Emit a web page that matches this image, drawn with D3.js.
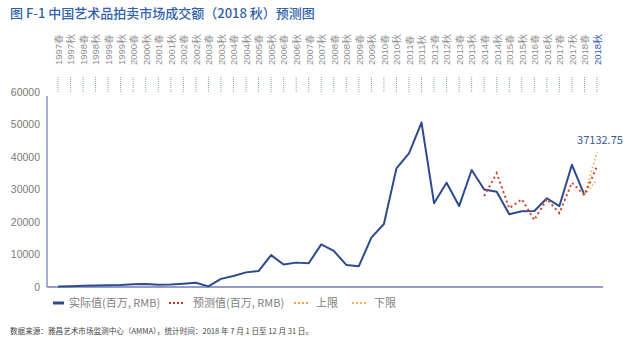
<!DOCTYPE html>
<html>
<head>
<meta charset="utf-8">
<script src="https://cdn.jsdelivr.net/npm/d3@7"></script>
<style>
  body { margin: 0; background: #fff; }
  svg { font-family: "Noto Sans CJK SC", "Noto Sans", sans-serif; }
  .title { fill: #2f62a8; font-size: 13px; font-weight: 500; }
  .seasons text { fill: #8f8f8f; font-size: 9.5px; }
  .yaxis text { fill: #7a7a7a; font-size: 10.5px; }
  .legend { fill: #808080; font-size: 11px; }
  .source { fill: #444; font-size: 7.6px; }
</style>
</head>
<body>
<svg id="chart" width="640" height="354"></svg>
<script>
const seasons = [];
for (let y = 1997; y <= 2018; y++) { seasons.push(y + "春", y + "秋"); }

// 实际值 (百万 RMB), 1997春 .. 2018春
const actual = [150, 250, 420, 450, 520, 620, 850, 900, 700, 780, 1000, 1300,
  200, 2500, 3400, 4500, 4900, 9800, 6900, 7500, 7300, 13100, 11100, 6800,
  6400, 15200, 19400, 36500, 41100, 50600, 25800, 32100, 24900, 36000,
  30000, 29300, 22400, 23300, 23400, 27300, 24900, 37600, 28300];
// 预测值, 2014春 .. 2018秋
const predicted = [28000, 35000, 24200, 27000, 20600, 27100, 22700, 32100, 28300, 37132.75];
const upper = [28300, 41500];
const lower = [28300, 33000];

const svg = d3.select("#chart");

svg.append("text").attr("class", "title").attr("x", 10).attr("y", 18)
  .text("图 F-1 中国艺术品拍卖市场成交额（2018 秋）预测图");

const x = d3.scalePoint().domain(seasons).range([58, 597]);
const y = d3.scaleLinear().domain([0, 60000]).range([287, 92]);

// season labels on top
const seasonAxis = svg.append("g").attr("class", "seasons").attr("transform", "translate(0,65)")
  .call(d3.axisTop(x).tickSize(0).tickPadding(0));
seasonAxis.select(".domain").remove();
seasonAxis.selectAll("text")
  .attr("transform", "rotate(-90)").attr("x", 0).attr("y", 0)
  .attr("dy", "0.35em").attr("text-anchor", "start")
  .style("fill", d => d === "2018秋" ? "#2f5fa8" : null);

svg.append("g").selectAll("line").data(seasons).join("line")
  .attr("x1", d => x(d)).attr("x2", d => x(d))
  .attr("y1", 77).attr("y2", 92)
  .attr("stroke", "#7fa7a0").attr("stroke-width", 1).attr("stroke-dasharray", "1,1");

// y axis
const ya = svg.append("g").attr("class", "yaxis").attr("transform", "translate(42,0)")
  .call(d3.axisLeft(y).tickValues(d3.range(0, 60001, 10000)).tickSize(0).tickPadding(2)
    .tickFormat(d3.format("d")));
ya.select(".domain").remove();

svg.append("line").attr("x1", 47).attr("x2", 47).attr("y1", 96).attr("y2", 287)
  .attr("stroke", "#8a93c6").attr("stroke-width", 1.5);
svg.append("line").attr("x1", 47).attr("x2", 603).attr("y1", 287).attr("y2", 287)
  .attr("stroke", "#6f7bbd").attr("stroke-width", 1.5);

const line = d3.line().x(d => x(d[0])).y(d => y(d[1]));

svg.append("path")
  .attr("d", line(actual.map((v, i) => [seasons[i], v])))
  .attr("fill", "none").attr("stroke", "#2e4a8e").attr("stroke-width", 2)
  .attr("stroke-linejoin", "round");

const predSeasons = seasons.slice(34);
svg.append("path")
  .attr("d", line(upper.map((v, i) => [seasons[42 + i], v])))
  .attr("fill", "none").attr("stroke", "#f3a43b").attr("stroke-width", 1.6)
  .attr("stroke-dasharray", "1.5,2.5");
svg.append("path")
  .attr("d", line(lower.map((v, i) => [seasons[42 + i], v])))
  .attr("fill", "none").attr("stroke", "#f5b45a").attr("stroke-width", 1.6)
  .attr("stroke-dasharray", "1.5,2.5");
svg.append("path")
  .attr("d", line(predicted.map((v, i) => [predSeasons[i], v])))
  .attr("fill", "none").attr("stroke", "#d0432b").attr("stroke-width", 2)
  .attr("stroke-dasharray", "2,3");

svg.append("text").attr("x", x("2018秋") + 3).attr("y", y(predicted[predicted.length - 1]) - 22)
  .attr("text-anchor", "middle").attr("fill", "#3a5a9c").attr("font-size", 11)
  .text(d3.format(".2f")(predicted[predicted.length - 1]));

// legend
const lg = svg.append("g").attr("transform", "translate(0,307)");
lg.append("line").attr("x1", 53).attr("x2", 64).attr("y1", -4).attr("y2", -4)
  .attr("stroke", "#2e4a8e").attr("stroke-width", 3);
lg.append("text").attr("class", "legend").attr("x", 69).attr("y", 0).text("实际值(百万, RMB)");
lg.append("line").attr("x1", 169).attr("x2", 183).attr("y1", -4).attr("y2", -4)
  .attr("stroke", "#c0302a").attr("stroke-width", 2).attr("stroke-dasharray", "2,2");
lg.append("text").attr("class", "legend").attr("x", 193).attr("y", 0).text("预测值(百万, RMB)");
lg.append("line").attr("x1", 294).attr("x2", 308).attr("y1", -4).attr("y2", -4)
  .attr("stroke", "#f3a43b").attr("stroke-width", 2).attr("stroke-dasharray", "2,2");
lg.append("text").attr("class", "legend").attr("x", 316).attr("y", 0).text("上限");
lg.append("line").attr("x1", 352).attr("x2", 366).attr("y1", -4).attr("y2", -4)
  .attr("stroke", "#f5b45a").attr("stroke-width", 2).attr("stroke-dasharray", "2,2");
lg.append("text").attr("class", "legend").attr("x", 374).attr("y", 0).text("下限");

svg.append("text").attr("class", "source").attr("x", 10).attr("y", 334)
  .text("数据来源：雅昌艺术市场监测中心（AMMA），统计时间：2018 年 7 月 1 日至 12 月 31 日。");
</script>
</body>
</html>
